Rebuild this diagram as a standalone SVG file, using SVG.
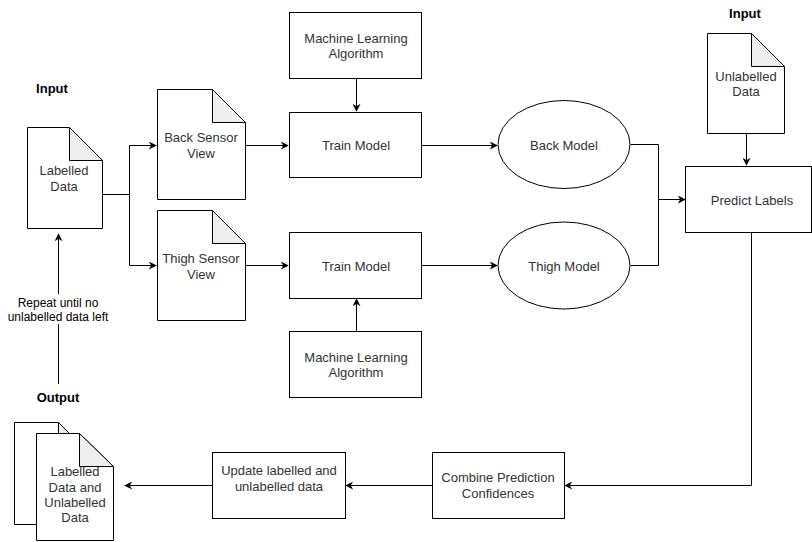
<svg xmlns="http://www.w3.org/2000/svg" width="812" height="542" viewBox="0 0 812 542">
<defs>
<marker id="ah" viewBox="0 0 10 10" refX="9" refY="5" markerWidth="8" markerHeight="8" markerUnits="userSpaceOnUse" orient="auto">
<path d="M0,0 L10,5 L0,10 L3,5 Z" fill="#000"/>
</marker>
<style>
.box{fill:#fff;stroke:#000;stroke-width:1}
.fold{fill:#eee;stroke:#000;stroke-width:1}
.t{font-family:"Liberation Sans",Arial,sans-serif;font-size:13px;fill:#333;text-anchor:middle}
.h{font-family:"Liberation Sans",Arial,sans-serif;font-size:13px;font-weight:bold;fill:#000;text-anchor:middle}
.c{fill:none;stroke:#000;stroke-width:1}
</style>
</defs>
<rect width="812" height="542" fill="#fff"/>

<g id="connectors">
<path class="c" d="M102.5,194.5 H129.5 V145.5 H156" marker-end="url(#ah)"/>
<path class="c" d="M129.5,194.5 V265.5 H156" marker-end="url(#ah)"/>
<path class="c" d="M245.5,145.5 H288" marker-end="url(#ah)"/>
<path class="c" d="M245.5,265.5 H288" marker-end="url(#ah)"/>
<path class="c" d="M356.5,78.5 V111" marker-end="url(#ah)"/>
<path class="c" d="M356.5,331.5 V299" marker-end="url(#ah)"/>
<path class="c" d="M421.5,145.5 H497" marker-end="url(#ah)"/>
<path class="c" d="M421.5,265.5 H497" marker-end="url(#ah)"/>
<path class="c" d="M630.5,144.5 H658.5 V199.5 H685" marker-end="url(#ah)"/>
<path class="c" d="M630.5,265.5 H658.5 V199.5"/>
<path class="c" d="M746.5,133.5 V165" marker-end="url(#ah)"/>
<path class="c" d="M751.5,232.5 V485.5 H565" marker-end="url(#ah)"/>
<path class="c" d="M432.5,485.5 H346" marker-end="url(#ah)"/>
<path class="c" d="M212.5,485.5 H125" marker-end="url(#ah)"/>
<path class="c" d="M58.5,384 V234" marker-end="url(#ah)"/>
<rect x="6" y="294" width="105" height="30" fill="#fff"/>
<text class="t" x="58" y="307" style="fill:#000;font-size:12px">Repeat until no</text>
<text class="t" x="58" y="321" style="fill:#000;font-size:12px">unlabelled data left</text>
</g>

<g id="label-input-left"><text class="h" x="52" y="93">Input</text></g>
<g id="label-input-right"><text class="h" x="745" y="18">Input</text></g>
<g id="label-output"><text class="h" x="58" y="402">Output</text></g>

<g id="labelled-data">
<path class="box" d="M27.5,127.5 H69.5 L102.5,160.5 V228.5 H27.5 Z"/>
<path class="fold" d="M69.5,127.5 V160.5 H102.5 Z"/>
<text class="t" x="64" y="175">Labelled</text>
<text class="t" x="64" y="191">Data</text>
</g>

<g id="back-sensor-view">
<path class="box" d="M157.5,89.5 H212.5 L245.5,122.5 V199.5 H157.5 Z"/>
<path class="fold" d="M212.5,89.5 V122.5 H245.5 Z"/>
<text class="t" x="201" y="142">Back Sensor</text>
<text class="t" x="201" y="158">View</text>
</g>

<g id="thigh-sensor-view">
<path class="box" d="M157.5,210.5 H212.5 L245.5,243.5 V320.5 H157.5 Z"/>
<path class="fold" d="M212.5,210.5 V243.5 H245.5 Z"/>
<text class="t" x="201" y="263">Thigh Sensor</text>
<text class="t" x="201" y="279">View</text>
</g>

<g id="ml-algorithm-top">
<rect class="box" x="289.5" y="12.5" width="132" height="66"/>
<text class="t" x="356" y="43">Machine Learning</text>
<text class="t" x="356" y="58">Algorithm</text>
</g>

<g id="train-model-back">
<rect class="box" x="289.5" y="112.5" width="132" height="65"/>
<text class="t" x="356" y="150">Train Model</text>
</g>

<g id="train-model-thigh">
<rect class="box" x="289.5" y="232.5" width="132" height="66"/>
<text class="t" x="356" y="271">Train Model</text>
</g>

<g id="ml-algorithm-bottom">
<rect class="box" x="289.5" y="331.5" width="132" height="66"/>
<text class="t" x="356" y="362">Machine Learning</text>
<text class="t" x="356" y="377">Algorithm</text>
</g>

<g id="back-model">
<ellipse class="box" cx="564" cy="144.5" rx="66" ry="44"/>
<text class="t" x="564" y="150">Back Model</text>
</g>

<g id="thigh-model">
<ellipse class="box" cx="564" cy="265.5" rx="66" ry="43.5"/>
<text class="t" x="564" y="271">Thigh Model</text>
</g>

<g id="unlabelled-data">
<path class="box" d="M707.5,33.5 H751.5 L784.5,66.5 V133.5 H707.5 Z"/>
<path class="fold" d="M751.5,33.5 V66.5 H784.5 Z"/>
<text class="t" x="746" y="81">Unlabelled</text>
<text class="t" x="746" y="96">Data</text>
</g>

<g id="predict-labels">
<rect class="box" x="685.5" y="166.5" width="126" height="66"/>
<text class="t" x="752" y="205">Predict Labels</text>
</g>

<g id="combine">
<rect class="box" x="432.5" y="452.5" width="132" height="66"/>
<text class="t" x="498" y="482">Combine Prediction</text>
<text class="t" x="498" y="498">Confidences</text>
</g>

<g id="update">
<rect class="box" x="212.5" y="452.5" width="133" height="66"/>
<text class="t" x="279" y="475">Update labelled and</text>
<text class="t" x="279" y="491">unlabelled data</text>
</g>

<g id="output-docs">
<path class="box" d="M14.5,422.5 H58.5 L91.5,455.5 V524.5 H14.5 Z"/>
<path class="fold" d="M58.5,422.5 V455.5 H91.5 Z"/>
<path class="box" d="M36.5,433.5 H79.5 L113.5,466.5 V540.5 H36.5 Z"/>
<path class="fold" d="M79.5,433.5 V466.5 H113.5 Z"/>
<text class="t" x="75" y="476">Labelled</text>
<text class="t" x="75" y="492">Data and</text>
<text class="t" x="75" y="507">Unlabelled</text>
<text class="t" x="75" y="522">Data</text>
</g>
</svg>
